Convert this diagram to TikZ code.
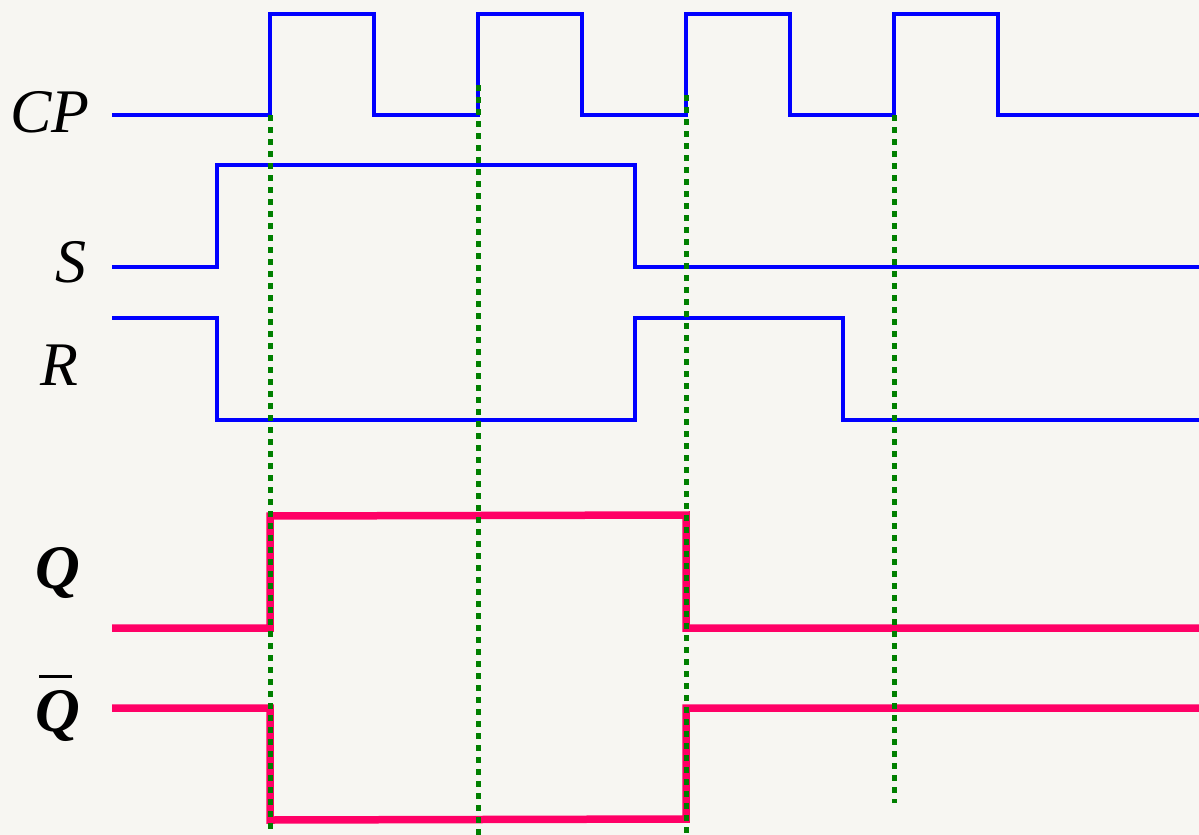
\documentclass[tikz,border=0pt]{standalone}
\usepackage{fontspec}
\setmainfont{Liberation Serif}
\usepackage{tikz}
\usetikzlibrary{positioning}

\definecolor{paper}{HTML}{F7F6F2}
\definecolor{sigblue}{HTML}{0000FF}
\definecolor{sigpink}{HTML}{FF0066}
\definecolor{markgreen}{HTML}{008000}

\begin{document}
\begin{tikzpicture}
    [x=1pt, y=-1pt,
    input/.style={draw=sigblue, line width=4.5pt, line join=miter},
    output/.style={draw=sigpink, line width=7.5pt, line join=miter},
    marker/.style={draw=markgreen, line width=5pt, dash pattern=on 6pt off 6pt},
    siglabel/.style={font=\fontsize{62}{62}\selectfont\itshape, inner sep=0pt}]
  \fill [paper] (0,0) rectangle (1199,835);
  \useasboundingbox (0,0) rectangle (1199,835);

  % labels
  \node [siglabel] (cp) at (50,112) {CP};
  \node [siglabel] (s) at (71,262) {S};
  \node [siglabel] (r) at (59,365) {R};
  \node [siglabel, font=\fontsize{62}{62}\selectfont\bfseries\itshape] (q) at (58,573) {Q};
  \node [siglabel, font=\fontsize{62}{62}\selectfont\bfseries\itshape] (qn) at (58,716) {Q};
  \draw [black, line width=3pt] (39,676) -- (72,676);

  % clock
  \draw [input] (112,115)
    \foreach \t in {270,478,686,894} {
      -- (\t,115) -- (\t,14) -- (\t+104,14) -- (\t+104,115)
    } -- (1199,115);

  % inputs
  \draw [input] (112,267) -- (217,267) -- (217,165) -- (635,165)
    -- (635,267) -- (1199,267);
  \draw [input] (112,318) -- (217,318) -- (217,420) -- (635,420)
    -- (635,318) -- (843,318) -- (843,420) -- (1199,420);

  % outputs
  \draw [output] (112,628) -- (270,628) -- (270,516) -- (686,515)
    -- (686,628) -- (1199,628);
  \draw [output] (112,708) -- (270,708) -- (270,820) -- (686,819)
    -- (686,708) -- (1199,708);

  % clock edges
  \draw [marker] (270,115) -- (270,835);
  \draw [marker] (478,85) -- (478,835);
  \draw [marker] (686,95) -- (686,835);
  \draw [marker] (894,115) -- (894,803);
\end{tikzpicture}
\end{document}
